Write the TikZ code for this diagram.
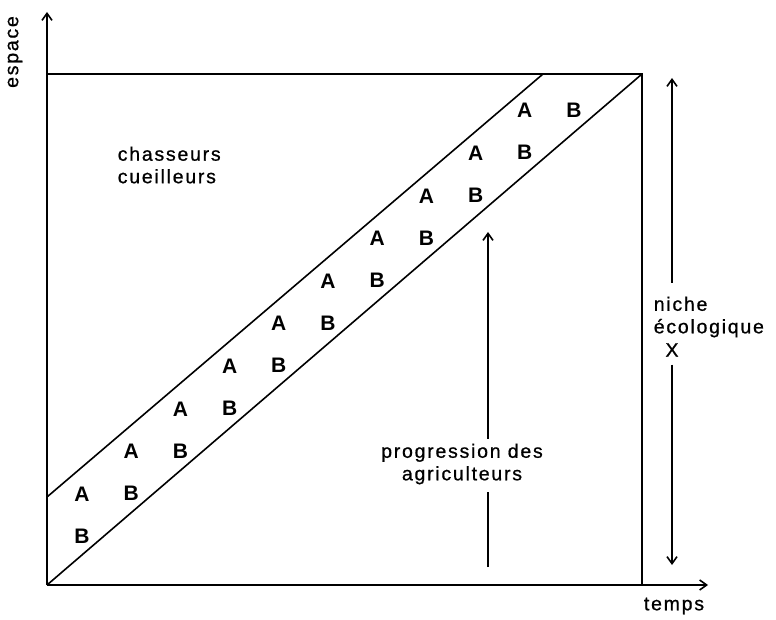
\documentclass[tikz,border=0pt]{standalone}
\usepackage{fontspec}
\newfontfamily\diagfont{Liberation Sans}[LetterSpace=9,FakeBold=0.8]
\newfontfamily\abfont{Liberation Sans Bold}[LetterSpace=0]
\usetikzlibrary{arrows.meta}

\begin{document}
\begin{tikzpicture}[x=1pt,y=-1pt,line width=1.6pt,
  txt/.style={font=\diagfont\fontsize{19.5}{22.5}\selectfont,inner sep=1pt},
  ab/.style={font=\abfont\fontsize{21}{23}\selectfont,inner sep=0pt},
  tip/.style={-{Straight Barb[length=7pt,width=10pt,line width=1.6pt]}}]
  \useasboundingbox (0,0) rectangle (776,620);
  % axes
  \coordinate (O) at (47,585);
  \coordinate (ytop) at (47,12);
  \coordinate (xend) at (708,585);
  \draw[tip] (O) -- (ytop);
  \draw[tip] (O) -- (xend);
  \node[txt,rotate=90] (espace) at (15,52) {espace};
  \node[txt] (temps) at (674,606) {temps};
  % box and band
  \coordinate (tl) at (47,74);
  \coordinate (tr) at (642,74);
  \coordinate (br) at (642,585);
  \coordinate (bandlo) at (47,497);
  \coordinate (bandhi) at (543,74);
  \draw (tl) -- (tr) -- (br);
  \draw (O) -- (tr);
  \draw (bandlo) -- (bandhi);
  \node[txt,align=left,anchor=west] (hunters) at (116,165) {chasseurs\\cueilleurs};
  % letters in the band
  \foreach \i in {0,...,9} \node[ab] (A\i) at (82+49.2*\i,494-42.6*\i) {A};
  \foreach \j in {0,...,10} \node[ab] (B\j) at (82+49.2*\j,536-42.6*\j) {B};
  % progression arrow
  \node[txt,align=center] (prog) at (462,464) {progression des\\agriculteurs};
  \coordinate (progtop) at (488,232);
  \coordinate (progbot) at (488,567);
  \draw[tip] ([yshift=3pt]prog.north -| progtop) -- (progtop);
  \draw (progbot) -- ([yshift=-6pt]prog.south -| progbot);
  % ecological niche
  \node[txt,align=left,anchor=west] (niche) at (652,317) {niche\\écologique};
  \node[txt] (X) at (672,350) {X};
  \coordinate (nichetop) at (672,78);
  \coordinate (nichebot) at (672,565);
  \draw[tip] ([yshift=12pt]niche.north -| nichetop) -- (nichetop);
  \draw[tip] ([yshift=-6pt]X.south) -- (nichebot);
\end{tikzpicture}
\end{document}
